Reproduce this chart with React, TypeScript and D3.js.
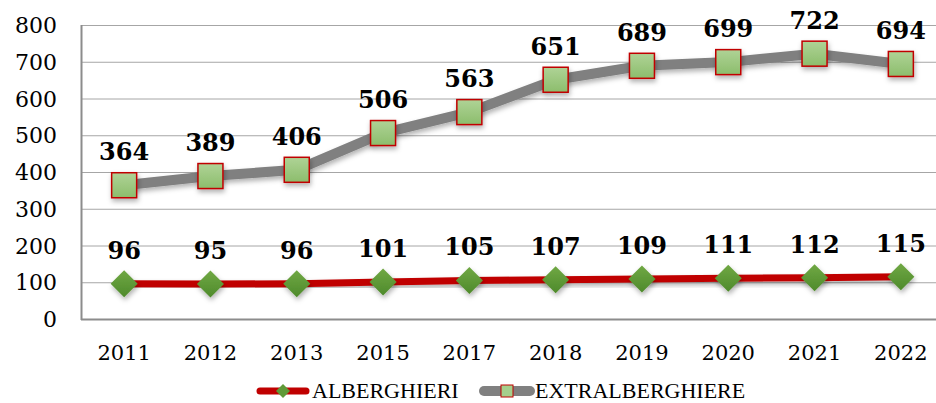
import React, { useEffect, useRef } from 'react';
import * as d3 from 'd3';

const anni = ['2011', '2012', '2013', '2015', '2017', '2018', '2019', '2020', '2021', '2022'];
const alberghieri = [96, 95, 96, 101, 105, 107, 109, 111, 112, 115];
const extralberghiere = [364, 389, 406, 506, 563, 651, 689, 699, 722, 694];
const yTicks = [0, 100, 200, 300, 400, 500, 600, 700, 800];

const W = 936;
const H = 403;

export default function App() {
  const svgRef = useRef<SVGSVGElement>(null);

  useEffect(() => {
    const svg = d3.select(svgRef.current);
    svg.selectAll('*').remove();

    const left = 81, top = 25, bottom = 319, right = 944;

    const x = d3.scaleBand<string>().domain(anni).range([left, right]);
    const y = d3.scaleLinear().domain([0, 800]).range([bottom, top]);
    const cx = (d: string) => (x(d) as number) + x.bandwidth() / 2;

    // ombre + sfumature
    const defs = svg.append('defs');
    const f = defs.append('filter').attr('id', 'ombra').attr('x', '-50%').attr('y', '-50%').attr('width', '200%').attr('height', '200%');
    f.append('feDropShadow').attr('dx', 1).attr('dy', 3).attr('stdDeviation', 2.5).attr('flood-color', '#000').attr('flood-opacity', 0.3);

    const gSq = defs.append('linearGradient').attr('id', 'gradQ').attr('x1', 0).attr('y1', 0).attr('x2', 0).attr('y2', 1);
    gSq.append('stop').attr('offset', '0%').attr('stop-color', '#afd396');
    gSq.append('stop').attr('offset', '100%').attr('stop-color', '#8cbd6c');
    const gDi = defs.append('linearGradient').attr('id', 'gradD').attr('x1', 0).attr('y1', 0).attr('x2', 0).attr('y2', 1);
    gDi.append('stop').attr('offset', '0%').attr('stop-color', '#70a844');
    gDi.append('stop').attr('offset', '100%').attr('stop-color', '#4e8a2b');

    // griglia
    svg.append('g')
      .selectAll('line')
      .data(yTicks.filter(d => d > 0))
      .enter()
      .append('line')
      .attr('x1', left).attr('x2', W)
      .attr('y1', d => y(d) + 0.5).attr('y2', d => y(d) + 0.5)
      .style('stroke', '#a6a6a6').style('stroke-width', 1);

    // assi
    svg.append('line').attr('x1', left + 0.5).attr('x2', left + 0.5).attr('y1', top).attr('y2', bottom + 1)
      .style('stroke', '#8c8c8c').style('stroke-width', 2);
    svg.append('line').attr('x1', left).attr('x2', W).attr('y1', bottom + 0.5).attr('y2', bottom + 0.5)
      .style('stroke', '#8c8c8c').style('stroke-width', 2);

    svg.append('g')
      .selectAll('text')
      .data(yTicks)
      .enter()
      .append('text')
      .attr('x', 57).attr('y', d => y(d) + 8)
      .attr('text-anchor', 'end')
      .style('font-family', '"DejaVu Serif"').style('font-size', '22px').style('fill', '#000')
      .text(d => d);

    svg.append('g')
      .selectAll('text')
      .data(anni)
      .enter()
      .append('text')
      .attr('x', d => cx(d)).attr('y', 360)
      .attr('text-anchor', 'middle')
      .style('font-family', '"DejaVu Serif"').style('font-size', '21px').style('fill', '#000')
      .text(d => d);

    const line = d3.line<number>().x((d, i) => cx(anni[i])).y(d => y(d));

    // serie EXTRALBERGHIERE
    svg.append('path').datum(extralberghiere).attr('d', line)
      .attr('fill', 'none').attr('stroke', '#808080').attr('stroke-width', 10)
      .attr('stroke-linejoin', 'round').attr('filter', 'url(#ombra)');
    // serie ALBERGHIERI
    svg.append('path').datum(alberghieri).attr('d', line)
      .attr('fill', 'none').attr('stroke', '#c00000').attr('stroke-width', 7)
      .attr('stroke-linejoin', 'round').attr('filter', 'url(#ombra)');

    const sq = 25;
    svg.append('g').selectAll('rect').data(extralberghiere).enter().append('rect')
      .attr('x', (d, i) => cx(anni[i]) - sq / 2).attr('y', d => y(d) - sq / 2)
      .attr('width', sq).attr('height', sq)
      .attr('fill', 'url(#gradQ)').attr('stroke', '#c00000').attr('stroke-width', 1.5)
      .attr('filter', 'url(#ombra)');

    const dr = 13.5;
    svg.append('g').selectAll('path').data(alberghieri).enter().append('path')
      .attr('d', (d, i) => {
        const px = cx(anni[i]), py = y(d);
        return `M${px},${py - dr}L${px + dr},${py}L${px},${py + dr}L${px - dr},${py}Z`;
      })
      .attr('fill', 'url(#gradD)').attr('filter', 'url(#ombra)');

    // etichette dati
    const labels = (vals: number[]) => svg.append('g').selectAll('text').data(vals).enter().append('text')
      .attr('x', (d, i) => cx(anni[i])).attr('y', d => y(d) - 25)
      .attr('text-anchor', 'middle')
      .style('font-family', '"DejaVu Serif"').style('font-weight', 'bold').style('font-size', '24px').style('fill', '#000')
      .text(d => d);
    labels(extralberghiere);
    labels(alberghieri);

    // legenda
    const ly = 391;
    const leg = svg.append('g');
    leg.append('line').attr('x1', 260).attr('x2', 306).attr('y1', ly).attr('y2', ly)
      .attr('stroke', '#c00000').attr('stroke-width', 7).attr('stroke-linecap', 'round');
    leg.append('path').attr('d', `M283,${ly - 7}L290,${ly}L283,${ly + 7}L276,${ly}Z`).attr('fill', '#5f9a38');
    leg.append('text').attr('x', 312).attr('y', ly + 7)
      .style('font-family', '"Liberation Serif"').style('font-size', '22px').style('fill', '#000')
      .text('ALBERGHIERI');

    leg.append('line').attr('x1', 484).attr('x2', 530).attr('y1', ly).attr('y2', ly)
      .attr('stroke', '#808080').attr('stroke-width', 10).attr('stroke-linecap', 'round');
    leg.append('rect').attr('x', 501).attr('y', ly - 6).attr('width', 12).attr('height', 12)
      .attr('fill', '#a5cf8c').attr('stroke', '#c00000').attr('stroke-width', 1);
    leg.append('text').attr('x', 535).attr('y', ly + 7)
      .style('font-family', '"Liberation Serif"').style('font-size', '22px').style('fill', '#000')
      .text('EXTRALBERGHIERE');
  }, []);

  return (
    <svg ref={svgRef} width={W} height={H}
      style={{ position: 'absolute', left: 0, top: 0, background: '#fff' }} />
  );
}
